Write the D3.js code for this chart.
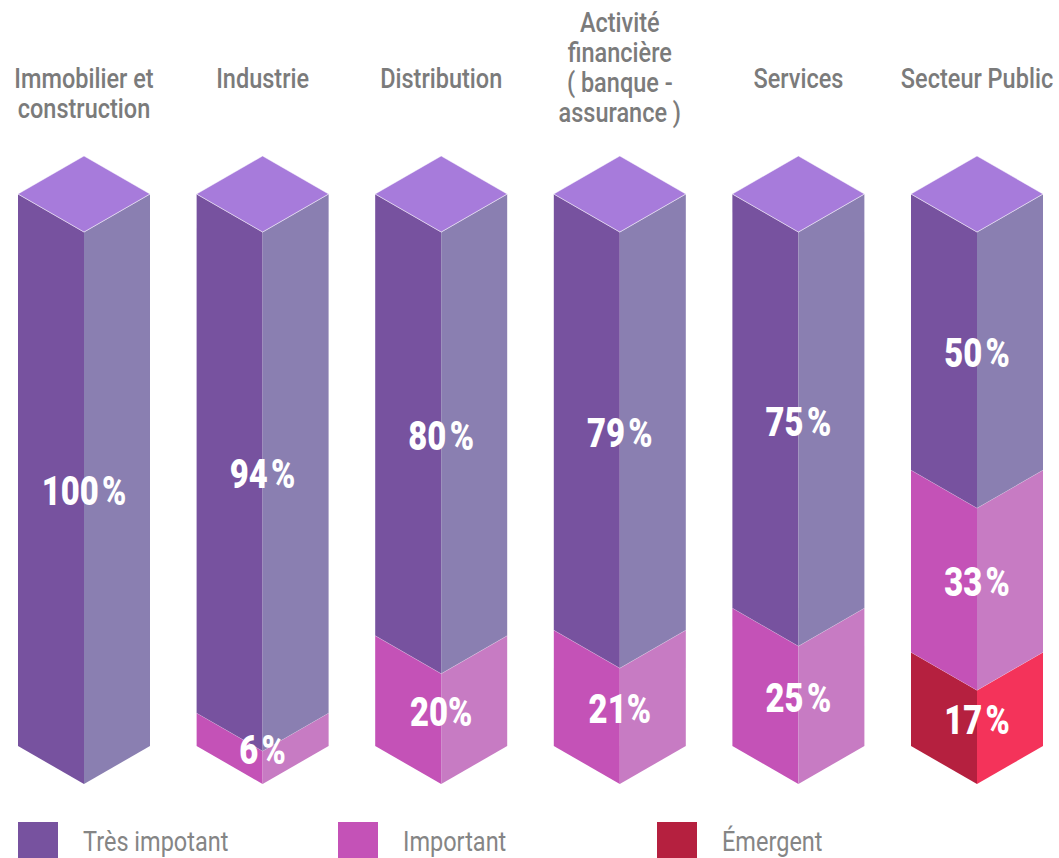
<html>
<head>
  <title>secteurs 3d stack</title>
  <meta charset="utf-8" />
<script src="https://d3js.org/d3.v7.min.js"></script>
</head>
<style>
  body { margin: 0; background: #fff; }
  svg { display: block; }
  text { font-family: Roboto, "Noto Sans", sans-serif; }
</style>
<body>
<svg class="main" width="1059" height="858"></svg>
<script>

// data
var categories = ["Immobilier et construction", "Industrie", "Distribution",
  "Activité financière ( banque - assurance )", "Services", "Secteur Public"]
var titleLines = [["Immobilier et", "construction"], ["Industrie"], ["Distribution"],
  ["Activité", "financière", "( banque -", "assurance )"], ["Services"], ["Secteur Public"]]
var series = ["Très impotant", "Important", "Émergent"]
var tresImportant = [100, 94, 80, 79, 75, 50]
var important = [0, 6, 20, 21, 25, 33]
var emergent = [0, 0, 0, 0, 0, 17]
var valueLabels = [
  ["100\u200a%", "94\u200a%", "80\u200a%", "79\u200a%", "75\u200a%", "50\u200a%"],
  ["", "6\u200a%", "20%", "21%", "25\u200a%", "33\u200a%"],
  ["", "", "", "", "", "17\u200a%"]
]

var leftColors = ["#77529f", "#c452b7", "#b5203f"]
var rightColors = ["#8a7fb1", "#c77bc3", "#f4335a"]
var capColor = "#a77bdb"

var svg = d3.select("svg.main")

var x = d3.scalePoint().domain(categories).range([84, 977])
var y = d3.scaleLinear().domain([0, 100]).range([746, 194])
var hw = 66      // half width of a column
var dh = 38      // depth drop of the front edge

var rows = categories.map(function (c, i) {
  return {cat: c, vals: [tresImportant[i], important[i], emergent[i]], idx: i}
})

var stackRows = rows.map(function (r) {
  // stack from the bottom: emergent, important, tres important
  var segs = []
  var base = 0
  for (var s = 2; s >= 0; s--) {
    var v = r.vals[s]
    if (v > 0) {
      segs.push({s: s, y0: base, y1: base + v, cat: r.cat, idx: r.idx})
      base += v
    }
  }
  return segs
})

var g = svg.append("g")

stackRows.forEach(function (segs) {
  var col = g.append("g").attr("class", "col")
  segs.forEach(function (d) {
    var cx = x(d.cat)
    var yb = y(d.y0), yt = y(d.y1)
    col.append("polygon")
      .attr("points", [[cx - hw, yt], [cx, yt + dh], [cx, yb + dh], [cx - hw, yb]].join(" "))
      .style("fill", leftColors[d.s])
    col.append("polygon")
      .attr("points", [[cx + hw, yt], [cx, yt + dh], [cx, yb + dh], [cx + hw, yb]].join(" "))
      .style("fill", rightColors[d.s])
    col.append("polyline")
      .attr("points", [[cx - hw, yt], [cx, yt + dh], [cx + hw, yt]].join(" "))
      .style("fill", "none")
      .style("stroke", "#fff")
      .style("stroke-opacity", 0.45)
      .style("stroke-width", 1)
  })
  var top = segs[segs.length - 1]
  var cx = x(top.cat), yt = y(top.y1)
  col.append("polygon")
    .attr("points", [[cx, yt - dh], [cx + hw, yt], [cx, yt + dh], [cx - hw, yt]].join(" "))
    .style("fill", capColor)
    .style("stroke", "#fff")
    .style("stroke-opacity", 0.45)
    .style("stroke-width", 1)

  // value labels
  segs.forEach(function (d) {
    var lbl = valueLabels[d.s][d.idx]
    if (!lbl) return
    var ly = (y(d.y0) + y(d.y1)) / 2 + 21
    col.append("text")
      .attr("transform", "translate(" + x(d.cat) + "," + (ly + 14) + ") scale(0.82,1)")
      .attr("text-anchor", "middle")
      .style("font-size", "40px")
      .style("font-weight", 900)
      .style("fill", "#fff")
      .text(lbl)
  })
})

// category titles
titleLines.forEach(function (lines, i) {
  var startY = lines.length > 2 ? 22 : 78
  lines.forEach(function (ln, k) {
    svg.append("text")
      .attr("transform", "translate(" + x(categories[i]) + "," + (startY + k * 30 + 10) + ") scale(0.84,1)")
      .attr("text-anchor", "middle")
      .style("font-size", "28px")
      .style("font-weight", 500)
      .style("fill", "#7b7b7b")
      .text(ln)
  })
})

// legend
var legendX = d3.scaleOrdinal().domain(series).range([18, 338, 657])
var leg = svg.append("g").selectAll("g.leg")
  .data(series)
  .enter()
  .append("g")
  .attr("class", "leg")
  .attr("transform", function (d) { return "translate(" + legendX(d) + ",822)" })

leg.append("rect")
  .attr("width", 40)
  .attr("height", 40)
  .style("fill", function (d, i) { return leftColors[i] })

leg.append("text")
  .attr("transform", "translate(65,29) scale(0.84,1)")
  .style("font-size", "28px")
  .style("fill", "#858585")
  .text(function (d) { return d })

</script>
</body>
</html>
